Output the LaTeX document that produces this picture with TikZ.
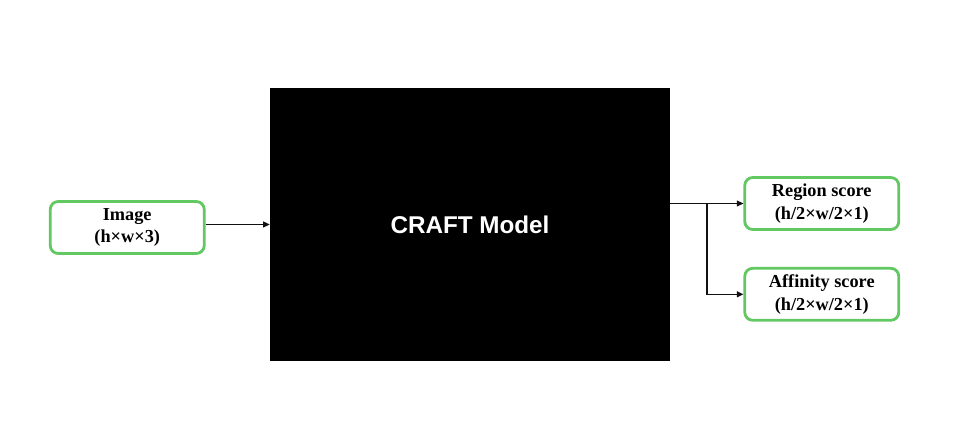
\documentclass[tikz,border=0pt]{standalone}
\usepackage{fontspec}
\setmainfont{Liberation Serif}
\newfontfamily\modelfont{Liberation Sans}
\usepackage{xcolor}
\usetikzlibrary{arrows.meta, positioning}
\definecolor{boxgreen}{HTML}{62C862}
\definecolor{linegray}{HTML}{111111}
\tikzset{
    iobox/.style={
        rectangle,
        rounded corners=1.6mm,
        draw=boxgreen,
        fill=white,
        line width=1.6pt,
        align=center,
        minimum width=3.08cm,
        minimum height=1.04cm,
        font=\fontsize{10.4}{13}\selectfont\bfseries
    },
    modelbox/.style={
        rectangle,
        fill=black,
        text=white,
        minimum width=8cm,
        minimum height=5.46cm,
        font=\modelfont\fontsize{13.8}{16}\selectfont\bfseries
    },
    arrow/.style={
        -{Triangle[length=1.3mm, width=1.2mm]},
        line width=0.6pt,
        draw=linegray
    }
}
\begin{document}
\begin{tikzpicture}
    \useasboundingbox (0,0) rectangle (19.06,-8.5);
    \node[modelbox] (model) at (9.4,-4.49) {CRAFT Model};
    \node[iobox, left=1.28cm of model, yshift=-0.06cm] (image) {Image\\(h×w×3)};
    \node[iobox, right=1.46cm of model.east, yshift=0.42cm] (region) {Region score\\(h/2×w/2×1)};
    \node[iobox, below=0.72cm of region] (affinity) {Affinity score\\(h/2×w/2×1)};
    \coordinate (split) at (14.14,0 |- region.west);

    \draw[arrow] (image.east |- model.west) -- (model.west);
    \draw[arrow] (model.east |- region.west) -- (region.west);
    \draw[arrow] (split) |- (affinity.west);
\end{tikzpicture}
\end{document}
